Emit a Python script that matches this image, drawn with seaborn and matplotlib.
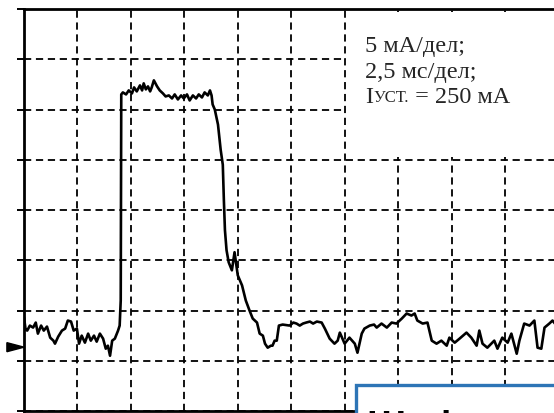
import matplotlib
matplotlib.use("Agg")
import matplotlib.pyplot as plt
from matplotlib.patches import Rectangle, Polygon
import seaborn as sns
import pandas as pd

# ---- data (oscillogram, in screen divisions: 2.5 ms/div, 5 mA/div) ----
time_div = [
    0.00, 0.03, 0.06, 0.11, 0.17, 0.22, 0.26, 0.32, 0.37, 0.43, 0.49, 0.55, 0.58,
    0.64, 0.71, 0.77, 0.82, 0.88, 0.93, 0.99, 1.03, 1.08, 1.14, 1.20, 1.25, 1.31,
    1.36, 1.42, 1.48, 1.53, 1.57, 1.61, 1.65, 1.70, 1.76, 1.79, 1.81,
    1.82, 1.85, 1.91, 1.96, 2.02, 2.06, 2.11, 2.17, 2.21, 2.24, 2.28, 2.32, 2.36,
    2.39, 2.43, 2.49, 2.54, 2.60, 2.65, 2.71, 2.77, 2.82, 2.88, 2.94, 2.99, 3.05,
    3.10, 3.16, 3.22, 3.27, 3.33, 3.38, 3.44, 3.48, 3.51,
    3.53, 3.57, 3.63, 3.68, 3.72, 3.74, 3.76, 3.79, 3.83, 3.89, 3.94, 4.00, 4.08,
    4.15, 4.22, 4.28, 4.36, 4.41, 4.47, 4.51, 4.56, 4.62, 4.65, 4.69, 4.73, 4.77,
    4.84, 4.97, 5.04, 5.10, 5.16, 5.22, 5.28, 5.35, 5.41, 5.48, 5.57, 5.63, 5.72,
    5.81, 5.87, 5.91, 6.00, 6.09, 6.19, 6.24, 6.32, 6.37, 6.47, 6.55, 6.60, 6.69,
    6.79, 6.88, 6.97, 7.07, 7.16, 7.25, 7.31, 7.36, 7.46, 7.55, 7.63, 7.72, 7.81,
    7.91, 7.96, 8.06, 8.15, 8.28, 8.37, 8.47, 8.52, 8.58, 8.67, 8.80, 8.86, 8.95,
    9.05, 9.12, 9.22, 9.27, 9.36, 9.46, 9.55, 9.61, 9.68, 9.74, 9.83, 9.89, 9.95,
]
signal_div = [
    1.86, 1.62, 1.60, 1.70, 1.66, 1.76, 1.54, 1.70, 1.60, 1.68, 1.46, 1.40, 1.34,
    1.48, 1.60, 1.64, 1.80, 1.78, 1.60, 1.64, 1.34, 1.50, 1.36, 1.54, 1.40, 1.50,
    1.38, 1.54, 1.44, 1.24, 1.30, 1.10, 1.40, 1.44, 1.60, 1.70, 2.20,
    6.30, 6.34, 6.30, 6.38, 6.32, 6.44, 6.36, 6.48, 6.38, 6.52, 6.40, 6.46, 6.36,
    6.44, 6.58, 6.46, 6.38, 6.32, 6.26, 6.28, 6.22, 6.30, 6.20, 6.28, 6.22, 6.30,
    6.18, 6.28, 6.22, 6.30, 6.24, 6.34, 6.28, 6.38, 6.28,
    6.10, 6.00, 5.70, 5.20, 4.90, 4.20, 3.60, 3.20, 2.96, 2.80, 3.16, 2.70, 2.50,
    2.20, 2.00, 1.84, 1.76, 1.54, 1.50, 1.34, 1.26, 1.30, 1.30, 1.40, 1.40, 1.70,
    1.72, 1.70, 1.76, 1.74, 1.70, 1.74, 1.76, 1.78, 1.74, 1.78, 1.76, 1.64, 1.44,
    1.34, 1.40, 1.56, 1.34, 1.46, 1.34, 1.16, 1.54, 1.64, 1.70, 1.72, 1.66, 1.74,
    1.66, 1.76, 1.74, 1.84, 1.94, 1.90, 1.94, 1.80, 1.74, 1.76, 1.40, 1.34, 1.40,
    1.30, 1.46, 1.36, 1.44, 1.56, 1.46, 1.30, 1.60, 1.34, 1.26, 1.40, 1.24, 1.46,
    1.36, 1.54, 1.14, 1.40, 1.74, 1.70, 1.80, 1.26, 1.24, 1.66, 1.74, 1.80, 1.72,
]
zero_level = 1.27
n_xdiv = 10
n_ydiv = 8
info_lines = ["5 мА/дел;", "2,5 мс/дел;"]
set_label_main = "I"
set_label_sub = "УСТ."
set_label_rest = " = 250 мА"
footer_text = "Шифр"

df = pd.DataFrame({"t": time_div, "v": signal_div})

sns.set_style("white")
plt.rcParams["font.family"] = ["Liberation Serif", "DejaVu Serif"]

W, H = 554, 414
fig = plt.figure(figsize=(W / 100, H / 100), dpi=100)
ax = fig.add_axes([24 / W, 2 / H, 534.4 / W, 402 / H])

sns.lineplot(data=df, x="t", y="v", ax=ax, color="black", lw=1.9,
             sort=False, estimator=None, zorder=3)

ax.set_xlim(0, n_xdiv)
ax.set_ylim(0, n_ydiv)
ax.set_xticks(range(n_xdiv + 1))
ax.set_yticks(range(n_ydiv + 1))
ax.set_xticklabels([])
ax.set_yticklabels([])
ax.set_xlabel("")
ax.set_ylabel("")
ax.set_axisbelow(True)
ax.grid(True, color="black", lw=1.3, linestyle=(0, (4, 2.6)))
ax.tick_params(axis="y", direction="out", length=5, width=1.4, color="black", left=True)
ax.tick_params(axis="x", length=0)
for s in ["left", "top", "bottom"]:
    ax.spines[s].set_visible(True)
    ax.spines[s].set_color("black")
    ax.spines[s].set_linewidth(2.0)
ax.spines["right"].set_visible(False)

# white area behind the settings text
ax.add_patch(Rectangle((6.03, 5.05), 5.0, 2.9, facecolor="white", edgecolor="none", zorder=2))

# zero-level marker
ax.add_patch(Polygon([(-0.32, zero_level + 0.09), (0.0, zero_level), (-0.32, zero_level - 0.09)],
                     closed=True, facecolor="black", edgecolor="black", clip_on=False, zorder=5))

# settings text
fs = 17.5
ax.text(6.38, 7.16, info_lines[0], fontsize=fs, va="baseline", ha="left", zorder=6)
ax.text(6.38, 6.65, info_lines[1], fontsize=fs, va="baseline", ha="left", zorder=6)
t1 = ax.text(6.38, 6.15, set_label_main, fontsize=fs, va="baseline", ha="left", zorder=6)
t2 = ax.annotate(set_label_sub, xy=(1, 0), xycoords=t1, xytext=(0.5, 1.7),
                 textcoords="offset points", fontsize=12, va="bottom", ha="left", zorder=6)
ax.annotate(set_label_rest, xy=(1, 0), xycoords=t2, xytext=(0, -1.7),
            textcoords="offset points", fontsize=fs, va="bottom", ha="left", zorder=6)

# blue framed box at bottom right
fig.patches.append(Rectangle((356 / W, (H - 386 - 100) / H), 400 / W, 100 / H,
                             transform=fig.transFigure, facecolor="white",
                             edgecolor="#2E75B6", lw=2.4, zorder=10))
fig.text(366 / W, -24 / H, footer_text, fontsize=28, fontweight="bold",
         family="Liberation Sans", color="black", va="baseline", ha="left", zorder=11)

fig.savefig("out.png", dpi=100)
